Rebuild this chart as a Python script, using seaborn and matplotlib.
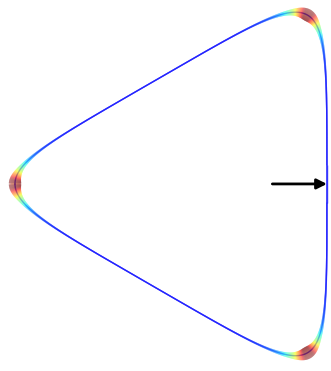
import numpy as np
import pandas as pd
import matplotlib
matplotlib.use("Agg")
import matplotlib.pyplot as plt
from matplotlib.colors import ListedColormap, Normalize
from matplotlib.collections import LineCollection
import seaborn as sns

# Rounded-triangle trochoid: x = -(cos t + a cos 2t), y = sin t - a sin 2t
lobes = 3
shape_a = 0.25
n_samples = 2400

t = np.linspace(0.0, 2.0 * np.pi, n_samples)
x = -(np.cos(t) + shape_a * np.cos((lobes - 1) * t))
y = np.sin(t) - shape_a * np.sin((lobes - 1) * t)

# curvature along the curve
dx, dy = np.gradient(x, t), np.gradient(y, t)
ddx, ddy = np.gradient(dx, t), np.gradient(dy, t)
curvature = np.abs(dx * ddy - dy * ddx) / (dx**2 + dy**2) ** 1.5
kmax = curvature.max()

df = pd.DataFrame({"x": x, "y": y, "curvature": curvature})

sns.set_style("white")
fig = plt.figure(figsize=(3.31, 3.71), dpi=100)
ax = fig.add_axes([0, 0, 1, 1])

# jet, washed slightly toward white
jet = matplotlib.colormaps["jet"](np.linspace(0, 1, 256))[:, :3]
soft_jet = ListedColormap(jet * 0.86 + 0.14)
norm = Normalize(vmin=-0.12 * kmax, vmax=0.95 * kmax, clip=True)

# thin outline of the whole curve
sns.lineplot(data=df, x="x", y="y", sort=False, estimator=None,
             color=soft_jet(norm(0.0)), lw=1.0, ax=ax, legend=False,
             zorder=2)

# band whose colour and width follow the curvature
pts = df[["x", "y"]].to_numpy()
segments = np.stack([pts[:-1], pts[1:]], axis=1)
seg_k = 0.5 * (curvature[:-1] + curvature[1:])
order = np.argsort(seg_k, kind="stable")
band = LineCollection(segments[order],
                      colors=soft_jet(norm(seg_k[order])),
                      linewidths=0.95 + 7.9 * seg_k[order] / kmax,
                      capstyle="butt", zorder=3)
ax.add_collection(band)

# arrow pointing at the flat edge
ax.annotate("", xy=(0.75, 0.0), xytext=(0.40, 0.0),
            arrowprops=dict(arrowstyle="-|>", color="black", lw=2,
                            mutation_scale=15, shrinkA=0, shrinkB=0),
            zorder=4)

ax.set_xlim(-1.346, 0.776)
ax.set_ylim(-1.199, 1.179)
ax.axis("off")
fig.savefig("out.png", dpi=100)
